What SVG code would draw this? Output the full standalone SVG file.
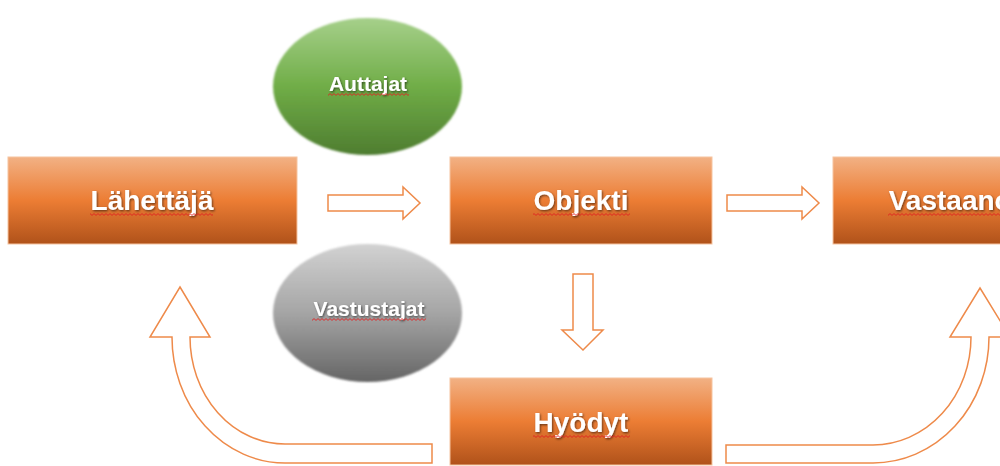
<svg xmlns="http://www.w3.org/2000/svg" width="1000" height="466" viewBox="0 0 1000 466">
<defs>
<linearGradient id="gOrange" x1="0" y1="0" x2="0" y2="1">
<stop offset="0" stop-color="#f2b184"/>
<stop offset="0.5" stop-color="#ec7d34"/>
<stop offset="1" stop-color="#b0521a"/>
</linearGradient>
<linearGradient id="gGreen" x1="0" y1="0" x2="0" y2="1">
<stop offset="0" stop-color="#a6d08b"/>
<stop offset="0.5" stop-color="#70ad47"/>
<stop offset="1" stop-color="#4e7d30"/>
</linearGradient>
<linearGradient id="gGray" x1="0" y1="0" x2="0" y2="1">
<stop offset="0" stop-color="#d2d2d2"/>
<stop offset="0.5" stop-color="#a5a5a5"/>
<stop offset="1" stop-color="#656565"/>
</linearGradient>
<filter id="shadow" x="-10%" y="-30%" width="130%" height="170%">
<feDropShadow dx="1" dy="1.2" stdDeviation="0.8" flood-color="#000" flood-opacity="0.55"/>
</filter>
<filter id="soft" x="-5%" y="-5%" width="110%" height="110%">
<feGaussianBlur stdDeviation="0.8"/>
</filter>
<pattern id="squig" patternUnits="userSpaceOnUse" x="0" y="0" width="4" height="3">
<path d="M0 2.4 L2 0.6 L4 2.4" fill="none" stroke="#e02020" stroke-width="0.9"/>
</pattern>
</defs>
<style>
.box{fill:url(#gOrange);stroke:#f6c4a0;stroke-width:1}
.lbl{font-family:"Liberation Sans",Arial,sans-serif;font-weight:bold;fill:#ffffff;text-anchor:middle;filter:url(#shadow)}
.big{font-size:28px}
.small{font-size:21px}
.arrow{fill:#ffffff;stroke:#ee8a4a;stroke-width:1.5;stroke-linejoin:miter}
.sq{fill:url(#squig)}
</style>
<rect width="1000" height="466" fill="#ffffff"/>

<g id="connectors">
<path class="arrow" d="M328 195 H403 V187 L420 203 L403 219 V211 H328 Z"/>
<path class="arrow" d="M727 195 H802 V187 L819 203 L802 219 V211 H727 Z"/>
<path class="arrow" d="M573 274 H593 V330 H603 L583 350 L562 330 H573 Z"/>
<path class="arrow" d="M180 287 L210 337 H190 A95 107 0 0 0 285 444 H432 V463 H285 A113 126 0 0 1 172 337 H150 Z"/>
<path class="arrow" d="M980 288 L1010 337 H989 A116 126 0 0 1 873 463 H726 V445 H873 A98 108 0 0 0 971 337 H950 Z"/>
</g>

<g id="node-auttajat">
<ellipse cx="367.5" cy="86.5" rx="94.5" ry="68.5" fill="url(#gGreen)" filter="url(#soft)"/>
<text class="lbl small" x="368" y="91">Auttajat</text>
<rect class="sq" x="328" y="93" width="81" height="3"/>
</g>

<g id="node-vastustajat">
<ellipse cx="367.5" cy="313" rx="94.5" ry="69" fill="url(#gGray)" filter="url(#soft)"/>
<text class="lbl small" x="369" y="316">Vastustajat</text>
<rect class="sq" x="312" y="318" width="114" height="3"/>
</g>

<g id="node-lahettaja">
<rect class="box" x="8" y="157" width="289" height="87"/>
<text class="lbl big" x="152" y="210">Lähettäjä</text>
<rect class="sq" x="90" y="213" width="123" height="3"/>
</g>

<g id="node-objekti">
<rect class="box" x="450" y="157" width="262" height="87"/>
<text class="lbl big" x="581" y="210">Objekti</text>
<rect class="sq" x="533" y="213" width="97" height="3"/>
</g>

<g id="node-vastaanottaja">
<rect class="box" x="833" y="157" width="292" height="87"/>
<text class="lbl big" x="979" y="210">Vastaanottaja</text>
<rect class="sq" x="888" y="213" width="182" height="3"/>
</g>

<g id="node-hyodyt">
<rect class="box" x="450" y="378" width="262" height="87"/>
<text class="lbl big" x="581" y="432">Hyödyt</text>
<rect class="sq" x="533" y="435" width="97" height="3"/>
</g>
</svg>
